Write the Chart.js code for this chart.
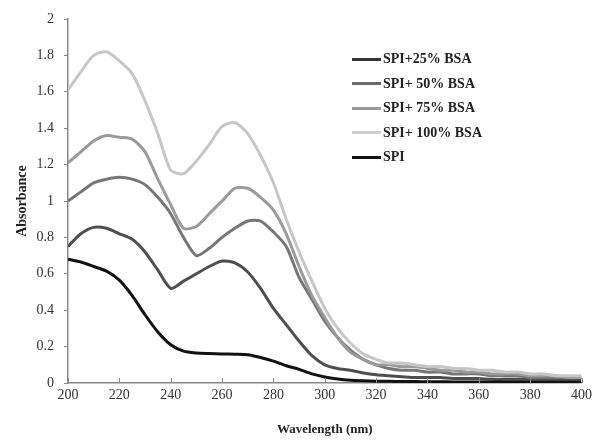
<!DOCTYPE html>
<html>
<head>
<meta charset="utf-8">
<script src="https://cdn.jsdelivr.net/npm/chart.js@4"></script>
<style>
html,body{margin:0;padding:0;background:#fff;}
#wrap{position:relative;width:596px;height:441px;}
#legend{position:absolute;left:352px;top:47px;font-family:"Liberation Serif","Times New Roman",serif;font-weight:bold;font-size:14px;color:#222;}
#legend .it{display:flex;align-items:center;height:24.5px;}
#legend .sw{display:inline-block;width:29px;height:3px;margin-right:2px;}
</style>
</head>
<body>
<div id="wrap">
<canvas id="c" width="596" height="441"></canvas>
<div id="legend"></div>
</div>
<script>
const wavelengths = [200,205,210,215,220,225,230,235,240,245,250,255,260,265,270,275,280,285,290,295,300,305,310,315,320,325,330,335,340,345,350,355,360,365,370,375,380,385,390,395,400];
const seriesNames = ["SPI+25% BSA","SPI+ 50% BSA","SPI+ 75% BSA","SPI+ 100% BSA","SPI"];
const bsa25  = [0.75,0.82,0.855,0.85,0.82,0.79,0.72,0.62,0.52,0.56,0.60,0.64,0.67,0.66,0.61,0.52,0.41,0.32,0.23,0.15,0.10,0.08,0.07,0.055,0.045,0.04,0.035,0.03,0.03,0.03,0.025,0.025,0.025,0.02,0.02,0.02,0.02,0.02,0.02,0.02,0.02];
const bsa50  = [1.00,1.05,1.10,1.12,1.13,1.12,1.09,1.02,0.93,0.80,0.70,0.74,0.80,0.85,0.89,0.89,0.83,0.75,0.58,0.46,0.34,0.25,0.18,0.13,0.10,0.08,0.07,0.07,0.06,0.06,0.05,0.05,0.05,0.04,0.04,0.04,0.03,0.03,0.03,0.03,0.03];
const bsa75  = [1.21,1.27,1.33,1.36,1.35,1.34,1.27,1.12,0.98,0.85,0.86,0.93,1.00,1.07,1.07,1.02,0.95,0.82,0.64,0.48,0.36,0.25,0.17,0.13,0.10,0.10,0.09,0.09,0.08,0.07,0.07,0.06,0.06,0.05,0.05,0.05,0.04,0.04,0.04,0.03,0.03];
const bsa100 = [1.61,1.71,1.80,1.82,1.77,1.70,1.55,1.37,1.17,1.15,1.22,1.31,1.41,1.43,1.37,1.25,1.10,0.90,0.72,0.56,0.41,0.30,0.22,0.16,0.13,0.11,0.11,0.10,0.09,0.09,0.08,0.08,0.07,0.07,0.06,0.06,0.05,0.05,0.04,0.04,0.04];
const spi    = [0.68,0.665,0.64,0.615,0.565,0.48,0.375,0.28,0.21,0.175,0.165,0.162,0.16,0.158,0.155,0.14,0.12,0.095,0.075,0.05,0.033,0.022,0.015,0.012,0.01,0.009,0.008,0.008,0.007,0.007,0.006,0.006,0.006,0.006,0.005,0.005,0.005,0.005,0.005,0.005,0.005];
const yTicks = [0,0.2,0.4,0.6,0.8,1,1.2,1.4,1.6,1.8,2];

const plotColors = ["#4e4e4e","#767676","#9a9a9a","#c6c6c6","#111111"];
const legendColors = ["#333333","#6a6a6a","#999999","#cfcfcf","#111111"];
const allSeries = [bsa25,bsa50,bsa75,bsa100,spi];

function pts(arr){ return wavelengths.map((w,i)=>({x:w,y:arr[i]})); }

const datasets = allSeries.map((s,i)=>({
  label: seriesNames[i],
  data: pts(s),
  borderColor: plotColors[i],
  borderWidth: 3,
  pointRadius: 0,
  tension: 0.25,
  fill: false,
  order: i===4 ? 0 : 4-i
}));

const innerTicks = {
  id:'innerTicks',
  afterDraw(chart){
    const ctx = chart.ctx, xs = chart.scales.x, ca = chart.chartArea;
    ctx.save();
    ctx.strokeStyle = '#888';
    ctx.lineWidth = 1;
    xs.ticks.forEach(t=>{
      const px = Math.round(xs.getPixelForValue(t.value))+0.5;
      ctx.beginPath(); ctx.moveTo(px, ca.bottom); ctx.lineTo(px, ca.bottom-5); ctx.stroke();
    });
    ctx.restore();
  }
};

new Chart(document.getElementById('c'), {
  type:'line',
  data:{datasets},
  options:{
    responsive:false,
    animation:false,
    layout:{padding:{top:19,right:14,left:0,bottom:0}},
    plugins:{legend:{display:false},tooltip:{enabled:false}},
    scales:{
      x:{
        type:'linear', min:200, max:400,
        afterFit(s){ s.height = 58; },
        afterBuildTicks(s){ s.ticks = wavelengths.filter(w=>w%20===0).map(v=>({value:v})); },
        grid:{display:true, drawOnChartArea:false, drawTicks:false},
        border:{color:'#888', width:1.5},
        ticks:{padding:4, color:'#333', font:{family:'"Liberation Serif", serif', size:14}},
        title:{display:true, text:'Wavelength (nm)', color:'#222', padding:{top:12}, font:{family:'"Liberation Serif", serif', size:13, weight:'bold'}}
      },
      y:{
        min:0, max:2,
        afterFit(s){ s.width = 68; },
        afterBuildTicks(s){ s.ticks = yTicks.map(v=>({value:v})); },
        grid:{display:true, drawOnChartArea:false, drawTicks:true, tickLength:4, color:'#888'},
        border:{color:'#888', width:1.5},
        ticks:{padding:10, color:'#333', font:{family:'"Liberation Serif", serif', size:14}, callback:v=>String(v)},
        title:{display:true, text:'Absorbance', color:'#222', padding:{top:14,bottom:4}, font:{family:'"Liberation Serif", serif', size:14, weight:'bold'}}
      }
    }
  },
  plugins:[innerTicks]
});

const leg = document.getElementById('legend');
seriesNames.forEach((n,i)=>{
  const d = document.createElement('div'); d.className='it';
  const sw = document.createElement('span'); sw.className='sw'; sw.style.background = legendColors[i];
  const tx = document.createElement('span'); tx.textContent = n;
  d.appendChild(sw); d.appendChild(tx); leg.appendChild(d);
});
</script>
</body>
</html>
